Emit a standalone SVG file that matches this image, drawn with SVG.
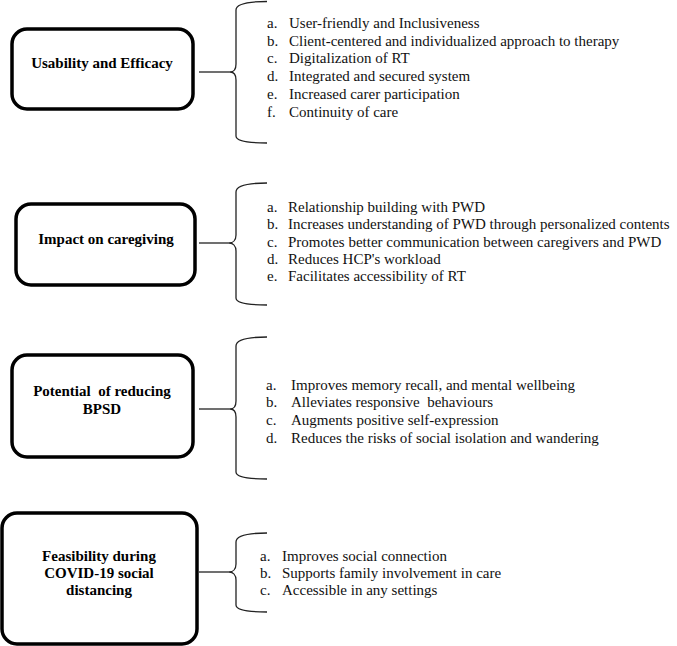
<svg xmlns="http://www.w3.org/2000/svg" width="677" height="646" viewBox="0 0 677 646">
<style>
.box{fill:#fff;stroke:#000;stroke-width:3.5}
.lbl{font-family:'Liberation Serif','Times New Roman',Times,'DejaVu Serif',serif;font-weight:bold;font-size:15px;text-anchor:middle;fill:#000}
.it{font-family:'Liberation Serif','Times New Roman',Times,'DejaVu Serif',serif;font-size:15px;fill:#111;white-space:pre}
.br{fill:none;stroke:#222;stroke-width:1.3}
</style>
<rect width="677" height="646" fill="#fff"/>
<g id="connectors">
<path class="br" d="M199,72 L230,72"/>
<path class="br" d="M267,1.5 C250,1.5 236,3 236,10 L236,64 C236,69 234,72 230,72 C234,72 236,75 236,80 L236,136 C236,141 250,143 267,143"/>
<path class="br" d="M199,243 L229,243"/>
<path class="br" d="M267,183 C250,183 236,185 236,192 L236,235 C236,240 233,243 229,243 C233,243 236,246 236,251 L236,298 C236,303 250,305 267,305"/>
<path class="br" d="M199,409 L230,409"/>
<path class="br" d="M267,337 C250,337 236,339 236,346 L236,401 C236,406 234,409 230,409 C234,409 236,412 236,417 L236,472 C236,477 250,479 267,479"/>
<path class="br" d="M199,572 L229,572"/>
<path class="br" d="M267,533 C250,533 236,535 236,542 L236,564 C236,569 233,572 229,572 C233,572 236,575 236,580 L236,605 C236,610 250,612 267,612"/>
</g>
<g id="node1">
<rect class="box" x="12" y="29" width="181" height="80" rx="15"/>
<text class="lbl" x="102" y="68">Usability and Efficacy</text>
</g>
<g id="list1">
<text class="it" x="267" y="28">a.</text><text class="it" x="289" y="28">User-friendly and Inclusiveness</text>
<text class="it" x="267" y="46">b.</text><text class="it" x="289" y="46">Client-centered and individualized approach to therapy</text>
<text class="it" x="267" y="63">c.</text><text class="it" x="289" y="63">Digitalization of RT</text>
<text class="it" x="267" y="81">d.</text><text class="it" x="289" y="81">Integrated and secured system</text>
<text class="it" x="267" y="99">e.</text><text class="it" x="289" y="99">Increased carer participation</text>
<text class="it" x="267" y="117">f.</text><text class="it" x="289" y="117">Continuity of care</text>
</g>
<g id="node2">
<rect class="box" x="16" y="204" width="179" height="81" rx="15"/>
<text class="lbl" x="106" y="244">Impact on caregiving</text>
</g>
<g id="list2">
<text class="it" x="267" y="212">a.</text><text class="it" x="288" y="212">Relationship building with PWD</text>
<text class="it" x="267" y="229">b.</text><text class="it" x="288" y="229">Increases understanding of PWD through personalized contents</text>
<text class="it" x="267" y="247">c.</text><text class="it" x="288" y="247">Promotes better communication between caregivers and PWD</text>
<text class="it" x="267" y="264">d.</text><text class="it" x="288" y="264">Reduces HCP's workload</text>
<text class="it" x="267" y="281">e.</text><text class="it" x="288" y="281">Facilitates accessibility of RT</text>
</g>
<g id="node3">
<rect class="box" x="12" y="355" width="181" height="102" rx="15"/>
<text class="lbl" x="102" y="396" style="white-space:pre">Potential  of reducing</text>
<text class="lbl" x="102" y="414">BPSD</text>
</g>
<g id="list3">
<text class="it" x="266" y="390">a.</text><text class="it" x="291" y="390">Improves memory recall, and mental wellbeing</text>
<text class="it" x="266" y="407">b.</text><text class="it" x="291" y="407">Alleviates responsive  behaviours</text>
<text class="it" x="266" y="425">c.</text><text class="it" x="291" y="425">Augments positive self-expression</text>
<text class="it" x="266" y="443">d.</text><text class="it" x="291" y="443">Reduces the risks of social isolation and wandering</text>
</g>
<g id="node4">
<rect class="box" x="2" y="513" width="195" height="131" rx="15"/>
<text class="lbl" x="99" y="561">Feasibility during</text>
<text class="lbl" x="99" y="578">COVID-19 social</text>
<text class="lbl" x="99" y="595">distancing</text>
</g>
<g id="list4">
<text class="it" x="260" y="561">a.</text><text class="it" x="282" y="561">Improves social connection</text>
<text class="it" x="260" y="578">b.</text><text class="it" x="282" y="578">Supports family involvement in care</text>
<text class="it" x="260" y="595">c.</text><text class="it" x="282" y="595">Accessible in any settings</text>
</g>
</svg>
